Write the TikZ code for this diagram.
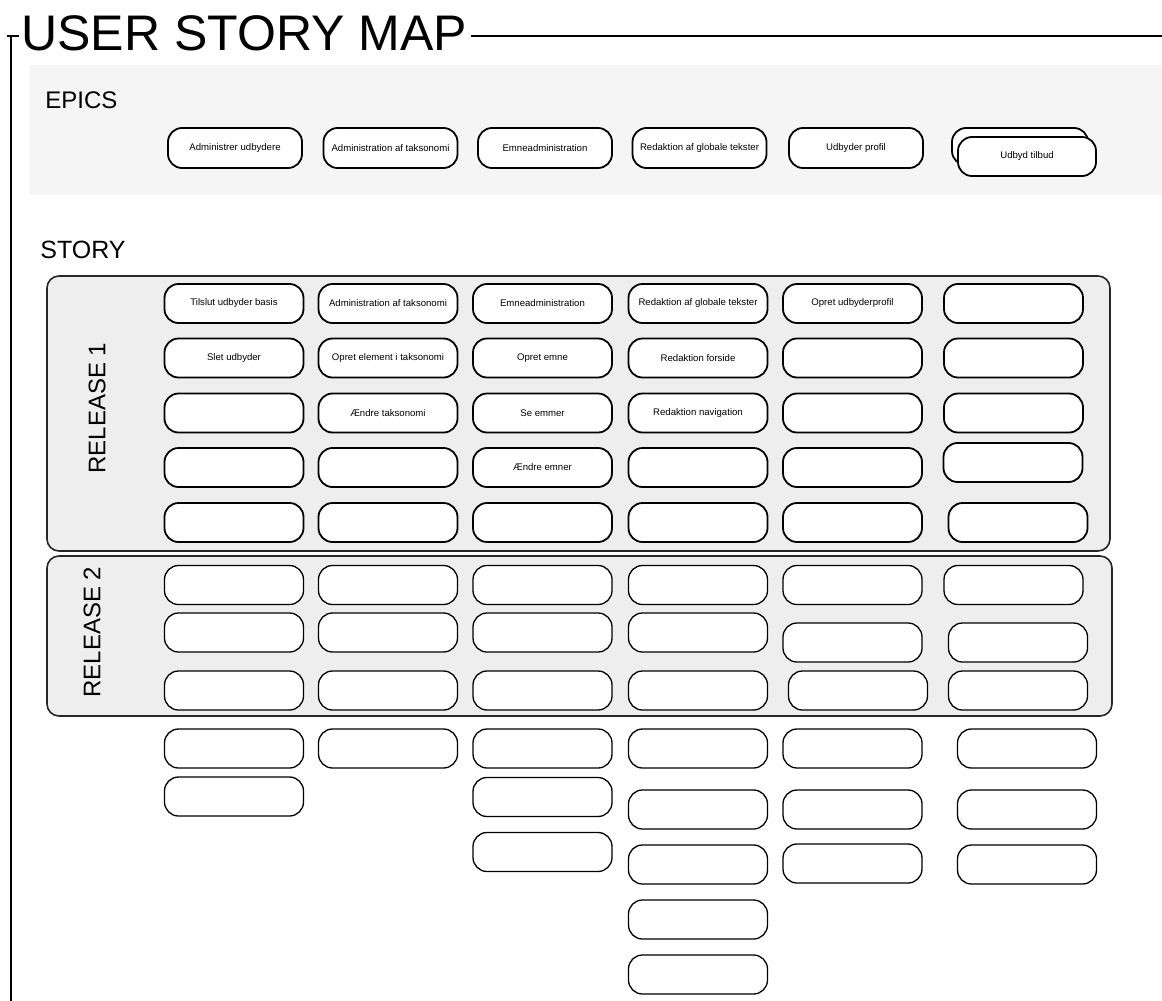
\documentclass[tikz,border=0pt]{standalone}
\usepackage{fontspec}
\setmainfont{Liberation Sans}
\definecolor{epicgray}{HTML}{F5F5F5}
\definecolor{lanegray}{HTML}{EEEEEE}

\begin{document}
\begin{tikzpicture}[x=0.5pt, y=-0.5pt,
    card/.style={draw, line width=0.9pt, rounded corners=7pt, fill=white,
        minimum width=69.5pt, minimum height=19.5pt, inner sep=1pt,
        font=\fontsize{4.8}{5.5}\selectfont},
    thincard/.style={card, line width=0.65pt},
    epic/.style={card, minimum width=67pt, minimum height=20pt},
    lane/.style={draw=black!85, line width=0.8pt, rounded corners=6pt, fill=lanegray},
    heading/.style={anchor=west, inner sep=0pt, font=\fontsize{12}{14}\selectfont}]
    \useasboundingbox (0,0) rectangle (1162,1001);
    % frame and title
    \node[anchor=base west, inner sep=0pt, font=\fontsize{25}{30}\selectfont]
        (title) at (21,50) {USER STORY MAP};
    \coordinate (tl) at (7,36);
    \coordinate (tr) at (1162,36);
    \coordinate (corner) at (11,36);
    \coordinate (bl) at (11,1001);
    \draw[line width=0.9pt] (tl) -- ([xshift=-1pt]title.west |- tl);
    \draw[line width=0.9pt] ([xshift=2pt]title.east |- tr) -- (tr);
    \draw[line width=0.9pt] (corner) -- (bl);
    % epics
    \fill[epicgray] (30,65) rectangle (1162,195);
    \node[heading] (epics) at (45,100) {EPICS};
    \foreach \x/\n/\t in {235/e1/Administrer udbydere, 390.5/e2/Administration af taksonomi,
        545/e3/Emneadministration, 699.5/e4/Redaktion af globale tekster,
        856/e5/Udbyder profil}
        \node[epic] (\n) at (\x,148) {\t};
    \node[epic, minimum width=68pt, minimum height=18.5pt] (e6back) at (1020,146.5) {};
    \node[epic, minimum width=69pt, minimum height=19.5pt] (e6) at (1027,156.5) {Udbyd tilbud};
    % story
    \node[heading, font=\fontsize{12.5}{14}\selectfont] (story) at (40,250) {STORY};
    % release 1
    \draw[lane] (47,276) rectangle (1110,551);
    \node[rotate=90, font=\fontsize{12}{14}\selectfont] (rel1) at (97,408) {RELEASE 1};
    \foreach \x/\y/\n/\t in {
        234/303.5/a1/Tilslut udbyder basis, 234/358/a2/Slet udbyder, 234/413/a3/, 234/467.5/a4/, 234/522.5/a5/,
        388/303.5/b1/Administration af taksonomi, 388/358/b2/Opret element i taksonomi,
        388/413/b3/Ændre taksonomi, 388/467.5/b4/, 388/522.5/b5/,
        542.5/303.5/c1/Emneadministration, 542.5/358/c2/Opret emne, 542.5/413/c3/Se emmer,
        542.5/467.5/c4/Ændre emner, 542.5/522.5/c5/,
        698/303.5/d1/Redaktion af globale tekster, 698/358/d2/Redaktion forside,
        698/413/d3/Redaktion navigation, 698/467.5/d4/, 698/522.5/d5/,
        852.5/303.5/f1/Opret udbyderprofil, 852.5/358/f2/, 852.5/413/f3/, 852.5/467.5/f4/, 852.5/522.5/f5/,
        1013.5/303.5/g1/, 1013.5/358/g2/, 1013.5/413/g3/, 1013/462.5/g4/, 1018/522.5/g5/}
        \node[card] (\n) at (\x,\y) {\t};
    % release 2
    \draw[lane] (47,556) rectangle (1112,716);
    \node[rotate=90, font=\fontsize{12}{14}\selectfont] (rel2) at (92,632) {RELEASE 2};
    \foreach \x/\y [count=\i] in {234/585, 388/585, 542.5/585, 698/585, 852.5/585, 1013.5/585,
        234/632.5, 388/632.5, 542.5/632.5, 698/632.5, 852.5/642.5, 1018/642.5,
        234/690.5, 388/690.5, 542.5/690.5, 698/690.5, 858/690.5, 1018/690.5}
        \node[thincard] (r2-\i) at (\x,\y) {};
    % backlog below the releases
    \foreach \x/\y [count=\i] in {234/748.5, 234/796.5, 388/748.5,
        542.5/748.5, 542.5/797, 542.5/852,
        698/748.5, 698/809.5, 698/864.5, 698/919.5, 698/974.5,
        852.5/748.5, 852.5/809.5, 852.5/863.5,
        1027/748.5, 1027/809.5, 1027/864.5}
        \node[thincard] (bl-\i) at (\x,\y) {};
\end{tikzpicture}
\end{document}
